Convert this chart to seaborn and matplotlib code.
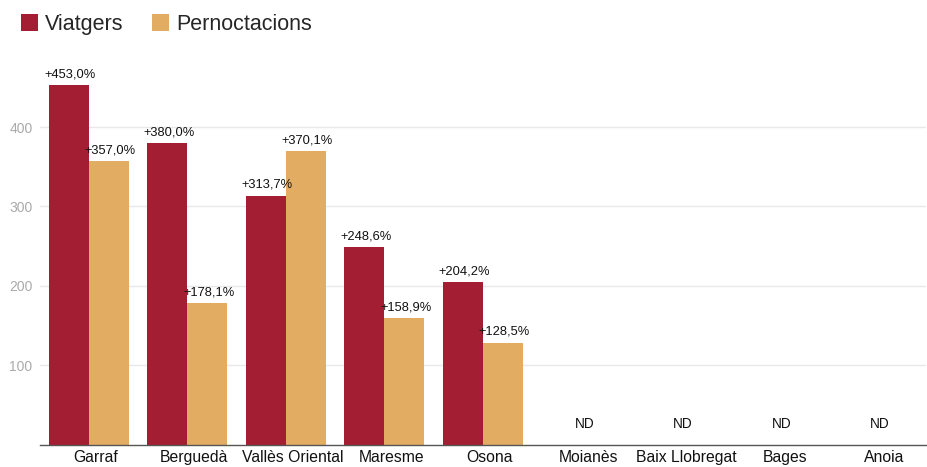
import numpy as np
import pandas as pd
import matplotlib
matplotlib.use("Agg")
import matplotlib.pyplot as plt
import matplotlib.transforms as mtransforms
from matplotlib.patches import Patch
import seaborn as sns

categories = ["Garraf", "Berguedà", "Vallès Oriental", "Maresme", "Osona",
              "Moianès", "Baix Llobregat", "Bages", "Anoia"]
viatgers = [453.0, 380.0, 313.7, 248.6, 204.2, np.nan, np.nan, np.nan, np.nan]
pernoctacions = [357.0, 178.1, 370.1, 158.9, 128.5, np.nan, np.nan, np.nan, np.nan]
series_names = ["Viatgers", "Pernoctacions"]
colors = ["#a41e33", "#e2ac63"]
yticks = [100, 200, 300, 400]

df = pd.DataFrame({
    "Comarca": categories * 2,
    "Serie": [series_names[0]] * len(categories) + [series_names[1]] * len(categories),
    "Valor": viatgers + pernoctacions,
})

sns.set_theme(style="white")
plt.rcParams["font.family"] = ["Liberation Sans", "DejaVu Sans"]

fig = plt.figure(figsize=(9.27, 4.67), dpi=100)
ax = fig.add_axes([39.5 / 927, 1 - 444.5 / 467, 886.5 / 927, 384 / 467])

sns.barplot(data=df, x="Comarca", y="Valor", hue="Serie", order=categories,
            hue_order=series_names, palette=colors, width=0.81, saturation=1,
            errorbar=None, ax=ax, legend=False, linewidth=0, edgecolor="none")

ax.set_xlim(-0.5, len(categories) - 0.5)
ax.set_ylim(0, 484)
ax.set_yticks(yticks)
ax.set_yticklabels([str(t) for t in yticks], color="#aaaaaa", fontsize=10)
ax.yaxis.grid(True, color="#e8e8e8", linewidth=1)
ax.set_axisbelow(True)
ax.tick_params(axis="y", length=0, pad=5)
ax.tick_params(axis="x", length=0, pad=4, labelsize=11.3, labelcolor="#111111")
ax.set_xlabel("")
ax.set_ylabel("")
for s in ["left", "right", "top"]:
    ax.spines[s].set_visible(False)
ax.spines["bottom"].set_color("#555555")
ax.spines["bottom"].set_linewidth(1.0)

offset = mtransforms.ScaledTranslation(7 / 100, 0, fig.dpi_scale_trans)
for lbl in ax.get_xticklabels():
    lbl.set_transform(lbl.get_transform() + offset)

# value labels
for container, vals in zip(ax.containers, [viatgers, pernoctacions]):
    for bar, v in zip(container, vals):
        if np.isnan(v):
            continue
        x = bar.get_x() + bar.get_width() / 2
        txt = "+" + f"{v:.1f}".replace(".", ",") + "%"
        ax.annotate(txt, (x, v), xytext=(1, 3.5), textcoords="offset points",
                    ha="center", va="bottom", fontsize=9.3, color="#111111")

for i, (a, b) in enumerate(zip(viatgers, pernoctacions)):
    if np.isnan(a) and np.isnan(b):
        ax.text(i + 0.03, 26, "ND", ha="center", va="center", fontsize=9.8, color="#111111")

handles = [Patch(facecolor=c, edgecolor="none") for c in colors]
fig.legend(handles, series_names, loc="upper left", bbox_to_anchor=(21 / 927, 1 - 14 / 467),
           ncol=2, frameon=False, fontsize=15.5, handlelength=0.8, handleheight=0.8,
           handletextpad=0.3, columnspacing=1.35, borderaxespad=0, borderpad=0)

fig.savefig("out.png", dpi=100)
